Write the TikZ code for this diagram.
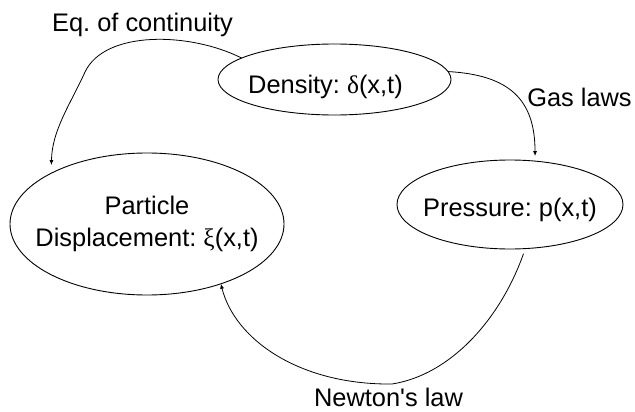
\documentclass[tikz,border=0pt]{standalone}
\usepackage{fontspec}
\setmainfont{Liberation Sans}
\newfontfamily\grk{Liberation Serif}
\usetikzlibrary{shapes.geometric,arrows.meta}
\frenchspacing
\begin{document}
\begin{tikzpicture}[x=1pt,y=-1pt,
  bubble/.style={ellipse,draw,line width=0.9pt,inner sep=0pt,outer sep=0pt,
    font=\fontsize{25.4}{32.7}\selectfont},
  lbl/.style={anchor=base,inner sep=0pt,font=\fontsize{25.4}{30}\selectfont},
  conn/.style={line width=0.8pt,-{Latex[length=5pt,width=4pt]}}]
\useasboundingbox (0,0) rectangle (635,412);
\node[bubble,minimum width=233pt,minimum height=71pt,text height=27.2pt,text depth=0pt]
  (dens) at (334.5,79.5) {\makebox[0pt]{Density: {\grk δ}(x,t)\hspace*{18pt}}};
\node[bubble,align=center,minimum width=274pt,minimum height=142pt]
  (part) at (147,224) {\makebox[0pt]{Particle}\\\makebox[0pt]{Displacement: {\grk ξ}(x,t)}};
\node[bubble,minimum width=226pt,minimum height=89pt,text height=24.2pt,text depth=0pt]
  (pres) at (510,204.5) {\makebox[0pt]{Pressure: p(x,t)}};
\node[lbl] (eq) at (142.5,31.7) {Eq. of continuity};
\node[lbl] (gas) at (579.5,106.7) {Gas laws};
\node[lbl] (newt) at (388.5,406.7) {Newton\textquotesingle s law};
\draw[conn] (dens.167) .. controls (190,32) and (105,30) .. (85,72)
  .. controls (70,105) and (52,130) .. ([yshift=8pt]part.152);
\draw[conn] (dens.4) .. controls (510,75) and (535,100) .. ([yshift=5pt]pres.60);
\draw[conn] ([yshift=-5pt]pres.-73) .. controls (500,320) and (450,375) .. (392,384)
  .. controls (300,385) and (235,340) .. (part.-39);
\end{tikzpicture}
\end{document}
